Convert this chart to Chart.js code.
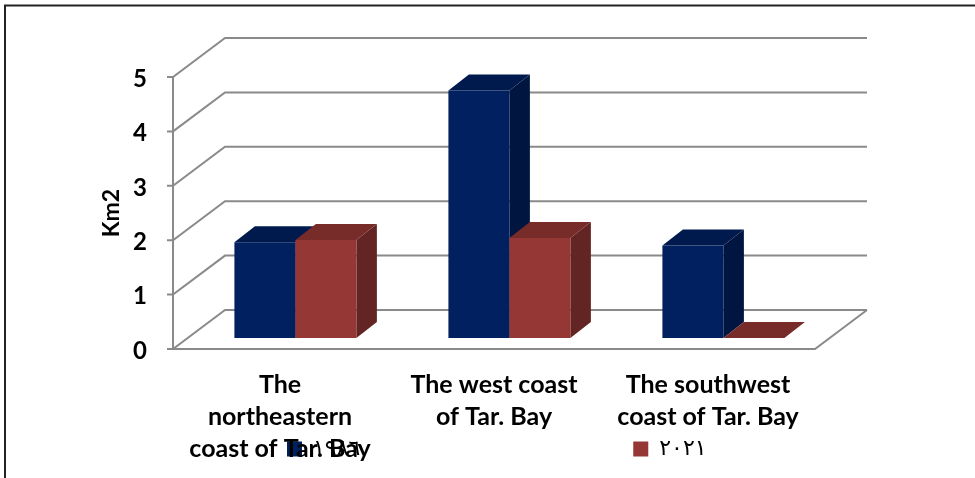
<!DOCTYPE html>
<html>
<head>
<meta charset="utf-8">
<script src="https://cdn.jsdelivr.net/npm/chart.js@4"></script>
<style>
  html, body { margin: 0; padding: 0; background: #fff; }
  #wrap { position: relative; width: 975px; height: 478px; overflow: hidden; }
</style>
</head>
<body>
<div id="wrap"><canvas id="chart" width="975" height="478"></canvas></div>
<script>
const categories = [
  ["The", "northeastern", "coast of Tar. Bay"],
  ["The west coast", "of Tar. Bay"],
  ["The southwest", "coast of Tar. Bay"]
];
const seriesNames = ["١٩٨٦", "٢٠٢١"];
const values1986 = [1.76, 4.55, 1.70];
const values2021 = [1.80, 1.84, 0];
const yTicks = [0, 1, 2, 3, 4, 5];

const font = "Lato";
const gridColor = "#8a8a8a";
// 3d look: back wall offset, and how far bars sit from the front edge
const wall = { x: 52, y: -39 };
const barDepth = { x: 20.5, y: -16 };
const barShift = { x: 15.4, y: -11 };

const shades = [
  { front: "#002060", top: "#001A4D", side: "#00153F" },
  { front: "#953735", top: "#772C2A", side: "#632523" }
];

function poly(ctx, pts, fill) {
  ctx.beginPath();
  pts.forEach((p, i) => (i ? ctx.lineTo(p[0], p[1]) : ctx.moveTo(p[0], p[1])));
  ctx.closePath();
  ctx.fillStyle = fill;
  ctx.fill();
}

const frame = {
  id: "frame",
  beforeDraw(chart) {
    const ctx = chart.ctx;
    ctx.save();
    ctx.strokeStyle = "#222";
    ctx.lineWidth = 2;
    ctx.beginPath();
    ctx.moveTo(5, 478);
    ctx.lineTo(5, 5.5);
    ctx.lineTo(975, 5.5);
    ctx.stroke();
    ctx.restore();
  }
};

// gridlines running along the floor/back wall, built from the y scale
const walls = {
  id: "walls",
  beforeDatasetsDraw(chart) {
    const { ctx, scales: { x, y } } = chart;
    const left = x.left, right = x.right;
    ctx.save();
    ctx.strokeStyle = gridColor;
    ctx.lineWidth = 2;
    yTicks.forEach((t) => {
      const py = y.getPixelForValue(t);
      ctx.beginPath();
      ctx.moveTo(left - 6, py);
      ctx.lineTo(left, py);
      ctx.lineTo(left + wall.x, py + wall.y);
      ctx.lineTo(right + wall.x, py + wall.y);
      ctx.stroke();
    });
    const y0 = y.getPixelForValue(0);
    ctx.beginPath();
    ctx.moveTo(left, y.getPixelForValue(5));
    ctx.lineTo(left, y0);
    ctx.lineTo(right, y0);
    ctx.lineTo(right + wall.x, y0 + wall.y);
    ctx.stroke();
    ctx.restore();
  }
};

// chart.js paints the left bar last, here the right one has to cover it,
// so the datasets are painted by hand: side and top faces, then the bar
const bars3d = {
  id: "bars3d",
  beforeDatasetsDraw(chart) {
    const ctx = chart.ctx;
    chart.getSortedVisibleDatasetMetas().forEach((meta) => {
      const c = shades[meta.index];
      ctx.save();
      ctx.translate(barShift.x, barShift.y);
      meta.data.forEach((bar) => {
        const l = bar.x - bar.width / 2, r = bar.x + bar.width / 2;
        const t = bar.y, b = bar.base;
        if (b - t > 0.5) {
          poly(ctx, [[r, t], [r + barDepth.x, t + barDepth.y], [r + barDepth.x, b + barDepth.y], [r, b]], c.side);
        }
        poly(ctx, [[l, t], [l + barDepth.x, t + barDepth.y], [r + barDepth.x, t + barDepth.y], [r, t]], c.top);
      });
      meta.controller.draw();
      ctx.restore();
    });
    return false;
  },
  afterLayout(chart) {
    // legend boxes sit where the reference has them, over the axis labels
    const lg = chart.legend;
    const pad = lg.options.labels.padding;
    lg.left = 287 - pad;
    lg.right = chart.width + pad;
    lg.top = 438 - pad;
    lg.bottom = chart.height;
  }
};

new Chart(document.getElementById("chart"), {
  type: "bar",
  data: {
    labels: categories,
    datasets: [
      { label: seriesNames[0], data: values1986, backgroundColor: shades[0].front },
      { label: seriesNames[1], data: values2021, backgroundColor: shades[1].front }
    ]
  },
  plugins: [frame, walls, bars3d],
  options: {
    responsive: false,
    animation: false,
    layout: { padding: { left: 0, right: 160, top: 77, bottom: 0 } },
    datasets: { bar: { categoryPercentage: 0.57, barPercentage: 1 } },
    plugins: {
      tooltip: { enabled: false },
      legend: {
        position: "bottom",
        align: "start",
        maxHeight: 1,
        labels: {
          boxWidth: 15,
          boxHeight: 15,
          padding: 273,
          color: "#000",
          font: { family: "'DejaVu Sans'", size: 22 }
        }
      }
    },
    scales: {
      x: {
        grid: { display: false },
        border: { display: false },
        ticks: {
          color: "#000",
          maxRotation: 0,
          autoSkip: false,
          padding: 12,
          font: { family: font, weight: "bold", size: 25, lineHeight: "32px" }
        },
        afterFit(s) { s.height = 128; }
      },
      y: {
        min: 0,
        max: 5,
        grid: { display: false },
        border: { display: false },
        title: {
          display: true,
          text: "Km2",
          color: "#000",
          padding: { top: 98, bottom: 0 },
          font: { family: font, weight: "bold", size: 23 }
        },
        ticks: {
          color: "#000",
          stepSize: 1,
          padding: 18,
          labelOffset: 2,
          font: { family: font, weight: "bold", size: 24 }
        },
        afterFit(s) { s.width = 173; }
      }
    }
  }
});
</script>
</body>
</html>
